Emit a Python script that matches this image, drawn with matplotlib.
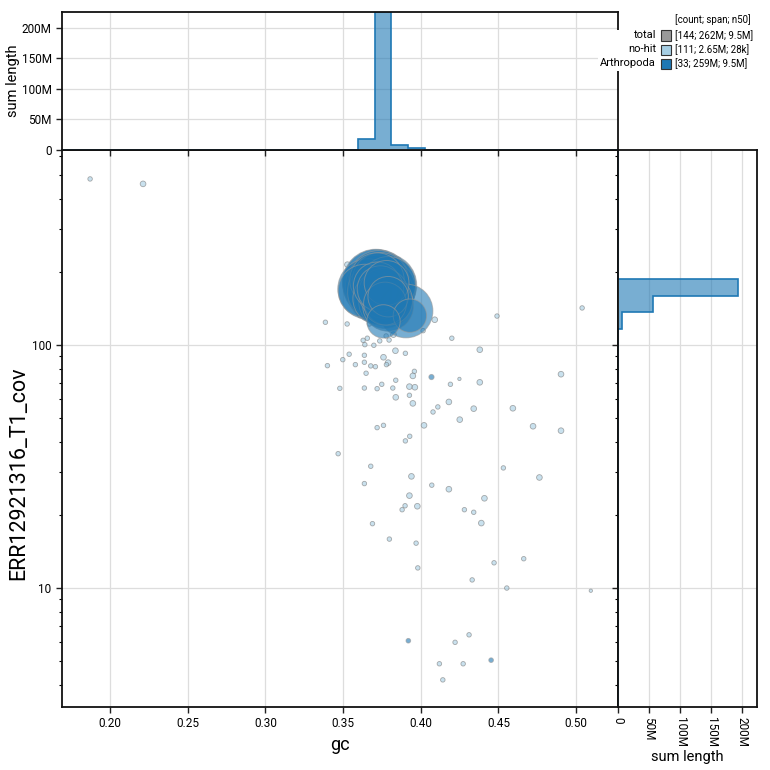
import numpy as np
import matplotlib
matplotlib.use("Agg")
import matplotlib.pyplot as plt
from matplotlib.patches import Rectangle
from matplotlib.ticker import FixedLocator, FuncFormatter, NullFormatter, LogLocator

plt.rcParams["font.family"] = ["Roboto", "DejaVu Sans"]

# no-hit contigs: gc, coverage, length (kb)
nohit_gc = [
    0.1871, 0.2212, 0.3528, 0.3727, 0.3386, 0.3526, 0.4090, 0.4015, 0.3609, 0.3669,
    0.3629, 0.3656, 0.3640, 0.3698, 0.3736, 0.3796, 0.3777, 0.3824, 0.4200, 0.3399,
    0.3498, 0.3539, 0.3637, 0.3637, 0.3579, 0.3678, 0.3708, 0.3760, 0.3790, 0.3779,
    0.3837, 0.3901, 0.3648, 0.3959, 0.3949, 0.3839, 0.3749, 0.3719, 0.3637, 0.3479,
    0.3820, 0.3927, 0.3962, 0.3839, 0.3927, 0.3949, 0.4191, 0.4181, 0.4110, 0.4079,
    0.4251, 0.4021, 0.3760, 0.3719, 0.3929, 0.3901, 0.3468, 0.4380, 0.4903, 0.4249,
    0.4380, 0.4341, 0.4593, 0.4723, 0.4903, 0.4532, 0.4764, 0.3940, 0.4071, 0.4181,
    0.3678, 0.3637, 0.3927, 0.3899, 0.3880, 0.3978, 0.4281, 0.4341, 0.4410, 0.4390,
    0.3689, 0.3798, 0.3970, 0.3981, 0.4472, 0.4663, 0.4331, 0.4554, 0.5095, 0.4311,
    0.4221, 0.4120, 0.4273, 0.4142, 0.5039, 0.4491,
    0.365, 0.372, 0.375, 0.380, 0.372, 0.368, 0.378, 0.383, 0.362, 0.376,
    0.381, 0.369, 0.374, 0.385, 0.371,
]
nohit_cov = [
    482, 460, 214, 231, 124, 122, 127, 114.5, 132, 122,
    104.5, 106.6, 100.3, 99.7, 103.9, 104.8, 108.9, 110.3, 106.6, 82.2,
    87.0, 91.6, 90.7, 84.9, 83.0, 82.0, 81.4, 89.0, 84.6, 83.0,
    94.7, 92.4, 76.5, 77.9, 74.6, 71.6, 68.9, 66.1, 66.5, 66.3,
    66.5, 67.4, 67.0, 60.9, 62.1, 57.5, 68.9, 58.3, 55.6, 53.0,
    49.3, 46.7, 46.7, 45.7, 42.1, 40.3, 35.7, 95.6, 75.8, 72.5,
    70.2, 54.7, 54.9, 46.3, 44.4, 31.2, 28.5, 28.8, 26.5, 25.5,
    31.7, 26.9, 24.0, 21.8, 21.0, 21.7, 21.0, 20.5, 23.4, 18.5,
    18.4, 15.9, 15.3, 12.1, 12.7, 13.2, 10.8, 10.0, 9.75, 6.42,
    5.98, 4.88, 4.88, 4.19, 142, 131.5,
    150, 140, 155, 165, 190, 175, 135, 150, 160, 180,
    128, 128, 145, 160, 160,
]
nohit_len = [
    18, 40, 40, 18, 18, 18, 40, 18, 18, 18,
    18, 18, 18, 18, 18, 18, 18, 40, 18, 18,
    18, 18, 18, 18, 18, 18, 18, 40, 40, 18,
    40, 18, 18, 18, 40, 18, 18, 18, 18, 18,
    18, 40, 40, 40, 18, 40, 18, 40, 18, 18,
    40, 40, 18, 18, 18, 18, 18, 40, 40, 5,
    40, 40, 40, 40, 40, 18, 40, 40, 18, 40,
    18, 18, 40, 18, 18, 40, 18, 18, 40, 40,
    18, 18, 18, 18, 18, 18, 18, 18, 5, 18,
    18, 18, 18, 18, 18, 18,
    18, 18, 18, 18, 18, 18, 18, 18, 18, 18,
    18, 18, 18, 18, 18,
]

# Arthropoda contigs: gc, coverage, length (Mb)
arth_gc = [
    0.372, 0.375, 0.371, 0.374, 0.377, 0.3715, 0.373, 0.366, 0.376, 0.372,
    0.378, 0.3712, 0.374, 0.375, 0.379, 0.3718, 0.3905, 0.364, 0.377, 0.373,
    0.379, 0.376, 0.379, 0.372, 0.374, 0.378, 0.377, 0.379, 0.393, 0.376,
    0.4069, 0.3920, 0.4453,
]
arth_cov = [
    178, 172, 181, 168, 176, 174, 183, 170, 165, 162,
    170, 166, 184, 157, 178, 185, 138, 167, 150, 155,
    145, 163, 152, 175, 170, 180, 148, 158, 132, 125,
    73.8, 6.07, 5.05,
]
arth_len = [
    13.8, 13.2, 12.6, 12.0, 11.5, 11.1, 10.7, 10.4, 10.1, 9.8,
    9.5, 9.3, 9.0, 8.8, 8.6, 8.4, 8.2, 8.0, 7.8, 7.6,
    7.3, 7.0, 6.7, 6.4, 6.0, 5.6, 5.1, 4.5, 3.0, 3.0,
    0.03, 0.02, 0.02,
]

legend_rows = ["total", "no-hit", "Arthropoda"]
legend_stats = ["[144; 262M; 9.5M]", "[111; 2.65M; 28k]", "[33; 259M; 9.5M]"]
legend_colors = ["#999999", "#a6cee3", "#1f78b4"]

nohit_col = "#a6cee3"
arth_col = "#1f78b4"
grid_col = "#dddddd"

nh_gc = np.array(nohit_gc)
nh_cov = np.array(nohit_cov)
nh_len = np.array(nohit_len) * 1e3
ar_gc = np.array(arth_gc)
ar_cov = np.array(arth_cov)
ar_len = np.array(arth_len) * 1e6


def msize(length):
    d = 1.5 + 0.013 * np.sqrt(length)
    return d ** 2


fig = plt.figure(figsize=(7.7, 7.7), dpi=100)
ax = fig.add_axes([0.0805, 0.0818, 0.7221, 0.7234])
axt = fig.add_axes([0.0805, 0.8052, 0.7221, 0.1792], sharex=ax)
axr = fig.add_axes([0.8026, 0.0818, 0.1805, 0.7234], sharey=ax)

# scatter
ax.scatter(nh_gc, nh_cov, s=msize(nh_len), c=nohit_col, alpha=0.6,
           edgecolors="#777777", linewidths=0.6, zorder=3)
order = np.argsort(-ar_len)
ax.scatter(ar_gc[order], ar_cov[order], s=msize(ar_len[order]), c=arth_col, alpha=0.6,
           edgecolors="#999999", linewidths=0.7, zorder=4)

ax.set_yscale("log")
ax.set_xlim(0.169, 0.527)
ax.set_ylim(3.24, 634)
ax.xaxis.set_major_locator(FixedLocator([0.20, 0.25, 0.30, 0.35, 0.40, 0.45, 0.50]))
ax.xaxis.set_major_formatter(FuncFormatter(lambda v, p: f"{v:.2f}"))
ax.yaxis.set_major_locator(FixedLocator([10, 100]))
ax.yaxis.set_major_formatter(FuncFormatter(lambda v, p: f"{v:g}"))
ax.yaxis.set_minor_locator(LogLocator(base=10, subs=np.arange(2, 10)))
ax.yaxis.set_minor_formatter(NullFormatter())
ax.grid(True, which="major", color=grid_col, lw=0.9, zorder=0)
ax.set_axisbelow(True)
ax.set_xlabel("gc", fontsize=13)
ax.set_ylabel("ERR12921316_T1_cov", fontsize=15.5)
ax.yaxis.set_label_coords(-0.058, 0.42)

# histograms
gc_edges = np.arange(0.1664, 0.54, 0.01073)
cov_edges = 10 ** np.arange(0.502, 2.85, 0.068)

for gcs, lens, col in [(nh_gc, nh_len, nohit_col), (ar_gc, ar_len, arth_col)]:
    axt.hist(gcs, bins=gc_edges, weights=lens, histtype="stepfilled",
             color=col, alpha=0.6, zorder=2)
    axt.hist(gcs, bins=gc_edges, weights=lens, histtype="step",
             color=col, lw=1.2, zorder=2.2)

for covs, lens, col in [(nh_cov, nh_len, nohit_col), (ar_cov, ar_len, arth_col)]:
    axr.hist(covs, bins=cov_edges, weights=lens, histtype="stepfilled",
             orientation="horizontal", color=col, alpha=0.6, zorder=2)
    axr.hist(covs, bins=cov_edges, weights=lens, histtype="step",
             orientation="horizontal", color=col, lw=1.2, zorder=2.2)

mfmt = FuncFormatter(lambda v, p: "0" if v == 0 else f"{v / 1e6:g}M")
len_ticks = [0, 50e6, 100e6, 150e6, 200e6]

axt.set_ylim(0, 226e6)
axt.yaxis.set_major_locator(FixedLocator(len_ticks))
axt.yaxis.set_major_formatter(mfmt)
axt.tick_params(axis="x", labelbottom=False)
axt.grid(True, color=grid_col, lw=0.9, zorder=0)
axt.set_axisbelow(True)
axt.set_ylabel("sum length", fontsize=10.5, labelpad=1)

axr.set_xlim(0, 224e6)
axr.xaxis.set_major_locator(FixedLocator(len_ticks))
axr.xaxis.set_major_formatter(mfmt)
axr.tick_params(axis="y", which="both", labelleft=False)
axr.tick_params(axis="x", labelrotation=-90)
axr.grid(True, which="major", color=grid_col, lw=0.9, zorder=0)
axr.set_axisbelow(True)
axr.set_xlabel("sum length", fontsize=10.5, labelpad=2)

for a in (ax, axt, axr):
    a.tick_params(which="major", direction="out", length=4, width=1, labelsize=8.5,
                  color="#222222")
    a.tick_params(which="minor", direction="out", length=2.5, width=0.8)
    for sp in a.spines.values():
        sp.set_linewidth(1.3)
        sp.set_color("#111111")
        sp.set_zorder(3)

# legend
W = 770.0
fig.patches.append(Rectangle((598 / W, 1 - 71 / W), 165 / W, 41 / W,
                             transform=fig.transFigure, facecolor="white",
                             edgecolor="none", zorder=5))
fig.text(675 / W, 1 - 20 / W, "[count; span; n50]", fontsize=7, va="center",
         ha="left", zorder=6)
for i, (lab, stat, col) in enumerate(zip(legend_rows, legend_stats, legend_colors)):
    yc = 1 - (35.5 + 14 * i) / W
    fig.text(656 / W, yc, lab, fontsize=8, ha="right", va="center", zorder=6)
    fig.patches.append(Rectangle((661 / W, yc - 5 / W), 10 / W, 10 / W,
                                 transform=fig.transFigure, facecolor=col,
                                 edgecolor="#333333", lw=0.8, zorder=6))
    fig.text(675 / W, yc, stat, fontsize=7, ha="left", va="center", zorder=6)

fig.savefig("out.png", dpi=100)
